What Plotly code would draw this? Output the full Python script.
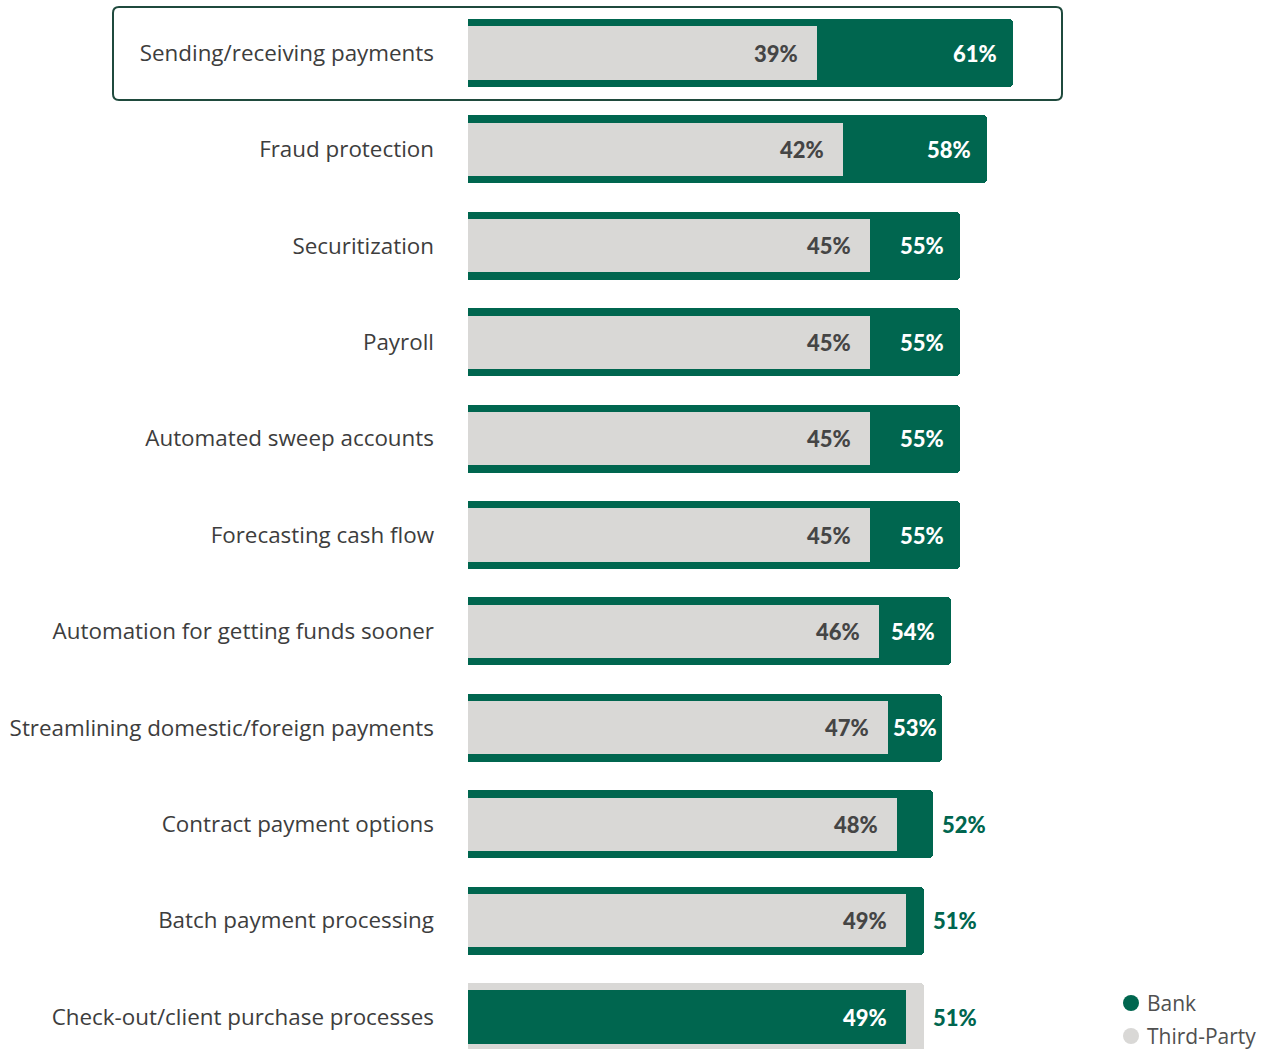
import plotly.graph_objects as go

# Where each payment task is handled: bank vs third-party share (%)
categories = [
    "Sending/receiving payments",
    "Fraud protection",
    "Securitization",
    "Payroll",
    "Automated sweep accounts",
    "Forecasting cash flow",
    "Automation for getting funds sooner",
    "Streamlining domestic/foreign payments",
    "Contract payment options",
    "Batch payment processing",
    "Check-out/client purchase processes",
]
bank = [61, 58, 55, 55, 55, 55, 54, 53, 52, 51, 49]
third_party = [39, 42, 45, 45, 45, 45, 46, 47, 48, 49, 51]
series_names = ["Bank", "Third-Party"]

GREEN = "#00664f"
GRAY = "#d9d8d6"
DARK_TEXT = "#454545"
LABEL_TEXT = "#3d3d3d"
BOX_LINE = "#1f4a3d"

W, H = 1270, 1049
PLOT_LEFT = 468          # px where the value axis starts
PX_PER_UNIT = 8.94       # px per percentage point
X_MAX = (W - PLOT_LEFT) / PX_PER_UNIT
ROW0, ROW_STEP = 53, 96.4
VAL_FONT = dict(family="Lato, Roboto, sans-serif", size=22, weight=900)
CAT_FONT = dict(family="Open Sans, Noto Sans, sans-serif", size=22.4,
                color=LABEL_TEXT)

# Larger share drawn as the wide back bar, smaller share as the narrow front bar
back_val, back_col, front_val, front_col = [], [], [], []
for b, t in zip(bank, third_party):
    if b >= t:
        back_val.append(b); back_col.append(GREEN)
        front_val.append(t); front_col.append(GRAY)
    else:
        back_val.append(t); back_col.append(GRAY)
        front_val.append(b); front_col.append(GREEN)

fig = go.Figure()
fig.add_trace(go.Bar(
    y=categories, x=back_val, orientation="h", width=0.705,
    marker=dict(color=back_col, line=dict(width=0), cornerradius=4),
    showlegend=False, hoverinfo="skip",
))
fig.add_trace(go.Bar(
    y=categories, x=front_val, orientation="h", width=0.55,
    marker=dict(color=front_col, line=dict(width=0), cornerradius=5),
    showlegend=False, hoverinfo="skip",
))

annotations = []
TEXT_W = 45
for cat, bv, bc, fv, fc in zip(categories, back_val, back_col, front_val, front_col):
    # label of the smaller share, inside the front bar
    annotations.append(dict(
        x=fv, y=cat, xref="x", yref="y", text=f"{fv}%", showarrow=False,
        xanchor="right", xshift=-17,
        font=dict(VAL_FONT, color="white" if fc == GREEN else DARK_TEXT),
    ))
    # label of the larger share
    gap = (bv - fv) * PX_PER_UNIT
    inside_col = "white" if bc == GREEN else DARK_TEXT
    if gap >= TEXT_W + 20:
        a = dict(x=bv, xanchor="right", xshift=-14, color=inside_col)
    elif gap >= TEXT_W + 4:
        a = dict(x=fv, xanchor="left", xshift=3, color=inside_col)
    else:
        a = dict(x=bv, xanchor="left", xshift=7, color=GREEN)
    annotations.append(dict(
        x=a["x"], y=cat, xref="x", yref="y", text=f"{bv}%", showarrow=False,
        xanchor=a["xanchor"], xshift=a["xshift"],
        font=dict(VAL_FONT, color=a["color"]),
    ))


def rounded_rect(x0, y0, x1, y1, r):
    """SVG path of a rounded rectangle given in page pixels, in paper coords."""
    px = lambda v: v / W
    py = lambda v: 1 - v / H
    return (
        f"M{px(x0 + r)},{py(y0)} L{px(x1 - r)},{py(y0)} "
        f"Q{px(x1)},{py(y0)} {px(x1)},{py(y0 + r)} "
        f"L{px(x1)},{py(y1 - r)} Q{px(x1)},{py(y1)} {px(x1 - r)},{py(y1)} "
        f"L{px(x0 + r)},{py(y1)} Q{px(x0)},{py(y1)} {px(x0)},{py(y1 - r)} "
        f"L{px(x0)},{py(y0 + r)} Q{px(x0)},{py(y0)} {px(x0 + r)},{py(y0)} Z"
    )


# Highlight frame around the first row
shapes = [dict(
    type="path", xref="paper", yref="paper", layer="below",
    path=rounded_rect(113, 7, 1062, 100, 6),
    line=dict(color=BOX_LINE, width=2), fillcolor="white",
)]

# Legend: colour dot + series name, bottom right
LEG_X, LEG_Y0, LEG_STEP = 1131, 1003, 33
for k, (name, col) in enumerate(zip(series_names, [GREEN, GRAY])):
    cy = 1 - (LEG_Y0 + k * LEG_STEP) / H
    shapes.append(dict(
        type="circle", xref="paper", yref="paper",
        xsizemode="pixel", ysizemode="pixel",
        xanchor=LEG_X / W, yanchor=cy,
        x0=-8, x1=8, y0=-8, y1=8,
        fillcolor=col, line=dict(width=0),
    ))
    annotations.append(dict(
        x=(LEG_X + 15) / W, y=cy, xref="paper", yref="paper",
        xanchor="left", yanchor="middle", text=name, showarrow=False,
        borderpad=0,
        font=dict(family="Open Sans, Noto Sans, sans-serif", size=21,
                  color="#505050"),
    ))

fig.update_layout(
    width=W, height=H,
    margin=dict(l=0, r=0, t=0, b=0, autoexpand=False),
    paper_bgcolor="white", plot_bgcolor="rgba(0,0,0,0)",
    barmode="overlay",
    bargap=0,
    showlegend=False,
    xaxis=dict(domain=[PLOT_LEFT / W, 1], range=[0, X_MAX], visible=False,
               fixedrange=True, automargin=False),
    yaxis=dict(
        categoryorder="array", categoryarray=categories,
        range=[(H - ROW0) / ROW_STEP, -ROW0 / ROW_STEP],
        showgrid=False, zeroline=False, showline=False, ticks="",
        ticklabelstandoff=33, automargin=False,
        tickfont=CAT_FONT,
        fixedrange=True,
    ),
    annotations=annotations,
    shapes=shapes,
)

fig.write_html("out.html")
